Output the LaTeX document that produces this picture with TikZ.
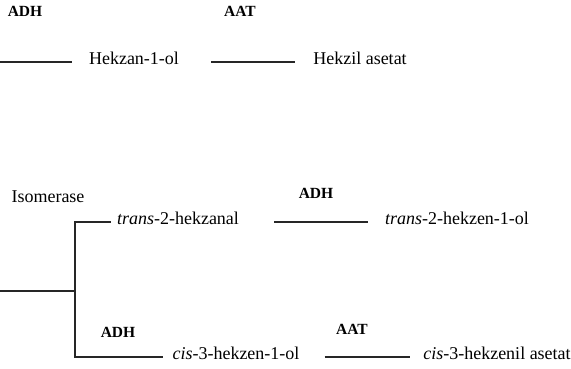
\documentclass[tikz,border=0pt]{standalone}
\usepackage{fontspec}
\setmainfont{Liberation Serif}
\usepackage{tikz}
\usetikzlibrary{
  positioning,
  calc
}
\tikzset{
  compound/.style={
    inner sep=3pt,
    text height=1.5ex,
    text depth=.25ex,
    font=\fontsize{18}{21}\selectfont
  },
  enzyme/.style={compound,font=\fontsize{15.5}{18}\selectfont\bfseries},
  rxn/.style={line width=1.1pt,draw=black!85}
}

\begin{document}
\begin{tikzpicture}[x=1pt,y=-1pt]
  \useasboundingbox (0,0) rectangle (571,369);

  % saturated branch
  \coordinate (in1) at (0,62);
  \node[enzyme] (adh1) at (25,14) {ADH};
  \node[enzyme] (aat1) at (240,14) {AAT};
  \node[compound] (hexanol) at (134,62) {Hekzan-1-ol};
  \node[compound] (hexylac) at (360,62) {Hekzil asetat};
  \draw[rxn,shorten >=14pt] (in1) -- (hexanol.west);
  \draw[rxn,shorten <=29pt,shorten >=15pt] (hexanol.east) -- (hexylac.west);

  % unsaturated branch
  \coordinate (in2) at (0,291);
  \coordinate (branch) at (75,291);
  \node[compound] (isom) at (48,200) {Isomerase};
  \node[compound] (t2hal) at (178,222) {\textit{trans}-2-hekzanal};
  \node[enzyme] (adh2) at (316,196) {ADH};
  \node[compound] (t2hol) at (457,222) {\textit{trans}-2-hekzen-1-ol};
  \node[enzyme] (adh3) at (118,335) {ADH};
  \node[compound] (c3hol) at (236,357) {\textit{cis}-3-hekzen-1-ol};
  \node[enzyme] (aat2) at (352,332) {AAT};
  \node[compound] (c3hac) at (497,357) {\textit{cis}-3-hekzenil asetat};

  \draw[rxn] (in2) -- (branch);
  \draw[rxn,shorten <=3pt,shorten >=6pt] (t2hal.west) -| (branch) |- (c3hol.west);
  \draw[rxn,shorten <=32pt,shorten >=14pt] (t2hal.east) -- (t2hol.west);
  \draw[rxn,shorten <=22pt,shorten >=10pt] (c3hol.east) -- (c3hac.west);
\end{tikzpicture}
\end{document}
